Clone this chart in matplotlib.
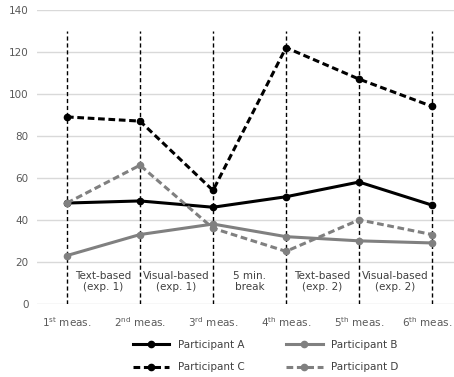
import matplotlib.pyplot as plt
import matplotlib.transforms as mtransforms

labels = ["1$^{\\mathrm{st}}$ meas.", "2$^{\\mathrm{nd}}$ meas.", "3$^{\\mathrm{rd}}$ meas.",
          "4$^{\\mathrm{th}}$ meas.", "5$^{\\mathrm{th}}$ meas.", "6$^{\\mathrm{th}}$ meas."]
part_a = [48, 49, 46, 51, 58, 47]
part_b = [23, 33, 38, 32, 30, 29]
part_c = [89, 87, 54, 122, 107, 94]
part_d = [48, 66, 36, 25, 40, 33]
phases = ["Text-based\n(exp. 1)", "Visual-based\n(exp. 1)", "5 min.\nbreak",
          "Text-based\n(exp. 2)", "Visual-based\n(exp. 2)"]

plt.rcParams['font.family'] = ['DejaVu Sans']
fig = plt.figure(figsize=(4.54, 3.77), dpi=100)
ax = fig.add_axes([0.0815, 0.194, 0.9185, 0.780])

x = list(range(len(labels)))
gray = '#808080'
la, = ax.plot(x, part_a, '-o', color='black', lw=2.2, ms=4.5, label='Participant A')
lb, = ax.plot(x, part_b, '-o', color=gray, lw=2.2, ms=4.5, label='Participant B')
lc, = ax.plot(x, part_c, '--o', color='black', lw=2.2, ms=4.5, dashes=(2.2, 1.2), label='Participant C')
ld, = ax.plot(x, part_d, '--o', color=gray, lw=2.2, ms=4.5, dashes=(2.2, 1.2), label='Participant D')

for xi in x:
    ax.vlines(xi, 0, 130, color='black', lw=1, linestyles=(0, (3, 2)), zorder=1)

for i, t in enumerate(phases):
    ax.text(i + 0.5, 10.5, t, ha='center', va='center', fontsize=7.5, color='#404040',
            linespacing=1.15)

ax.set_xlim(-0.41, 5.3)
ax.set_ylim(0, 140)
ax.set_yticks(range(0, 141, 20))
ax.set_xticks(x)
ax.set_xticklabels(labels)
ax.grid(axis='y', color='#d9d9d9', lw=1)
ax.set_axisbelow(True)
for s in ax.spines.values():
    s.set_visible(False)
ax.tick_params(length=0, labelsize=7.5, labelcolor='#595959')
ax.tick_params(axis='x', pad=8)
ax.tick_params(axis='y', pad=6)
# keep the last label inside the figure
last = ax.get_xticklabels()[-1]
last.set_transform(last.get_transform() + mtransforms.ScaledTranslation(-5 / 100, 0, fig.dpi_scale_trans))

fig.legend([la, lc, lb, ld], ['Participant A', 'Participant C', 'Participant B', 'Participant D'],
           loc='lower center', ncol=2, frameon=False, fontsize=7.5, bbox_to_anchor=(0.585, -0.012),
           handlelength=3.5, columnspacing=4, labelspacing=1.2, labelcolor='#404040')

fig.savefig('out.png', dpi=100)
